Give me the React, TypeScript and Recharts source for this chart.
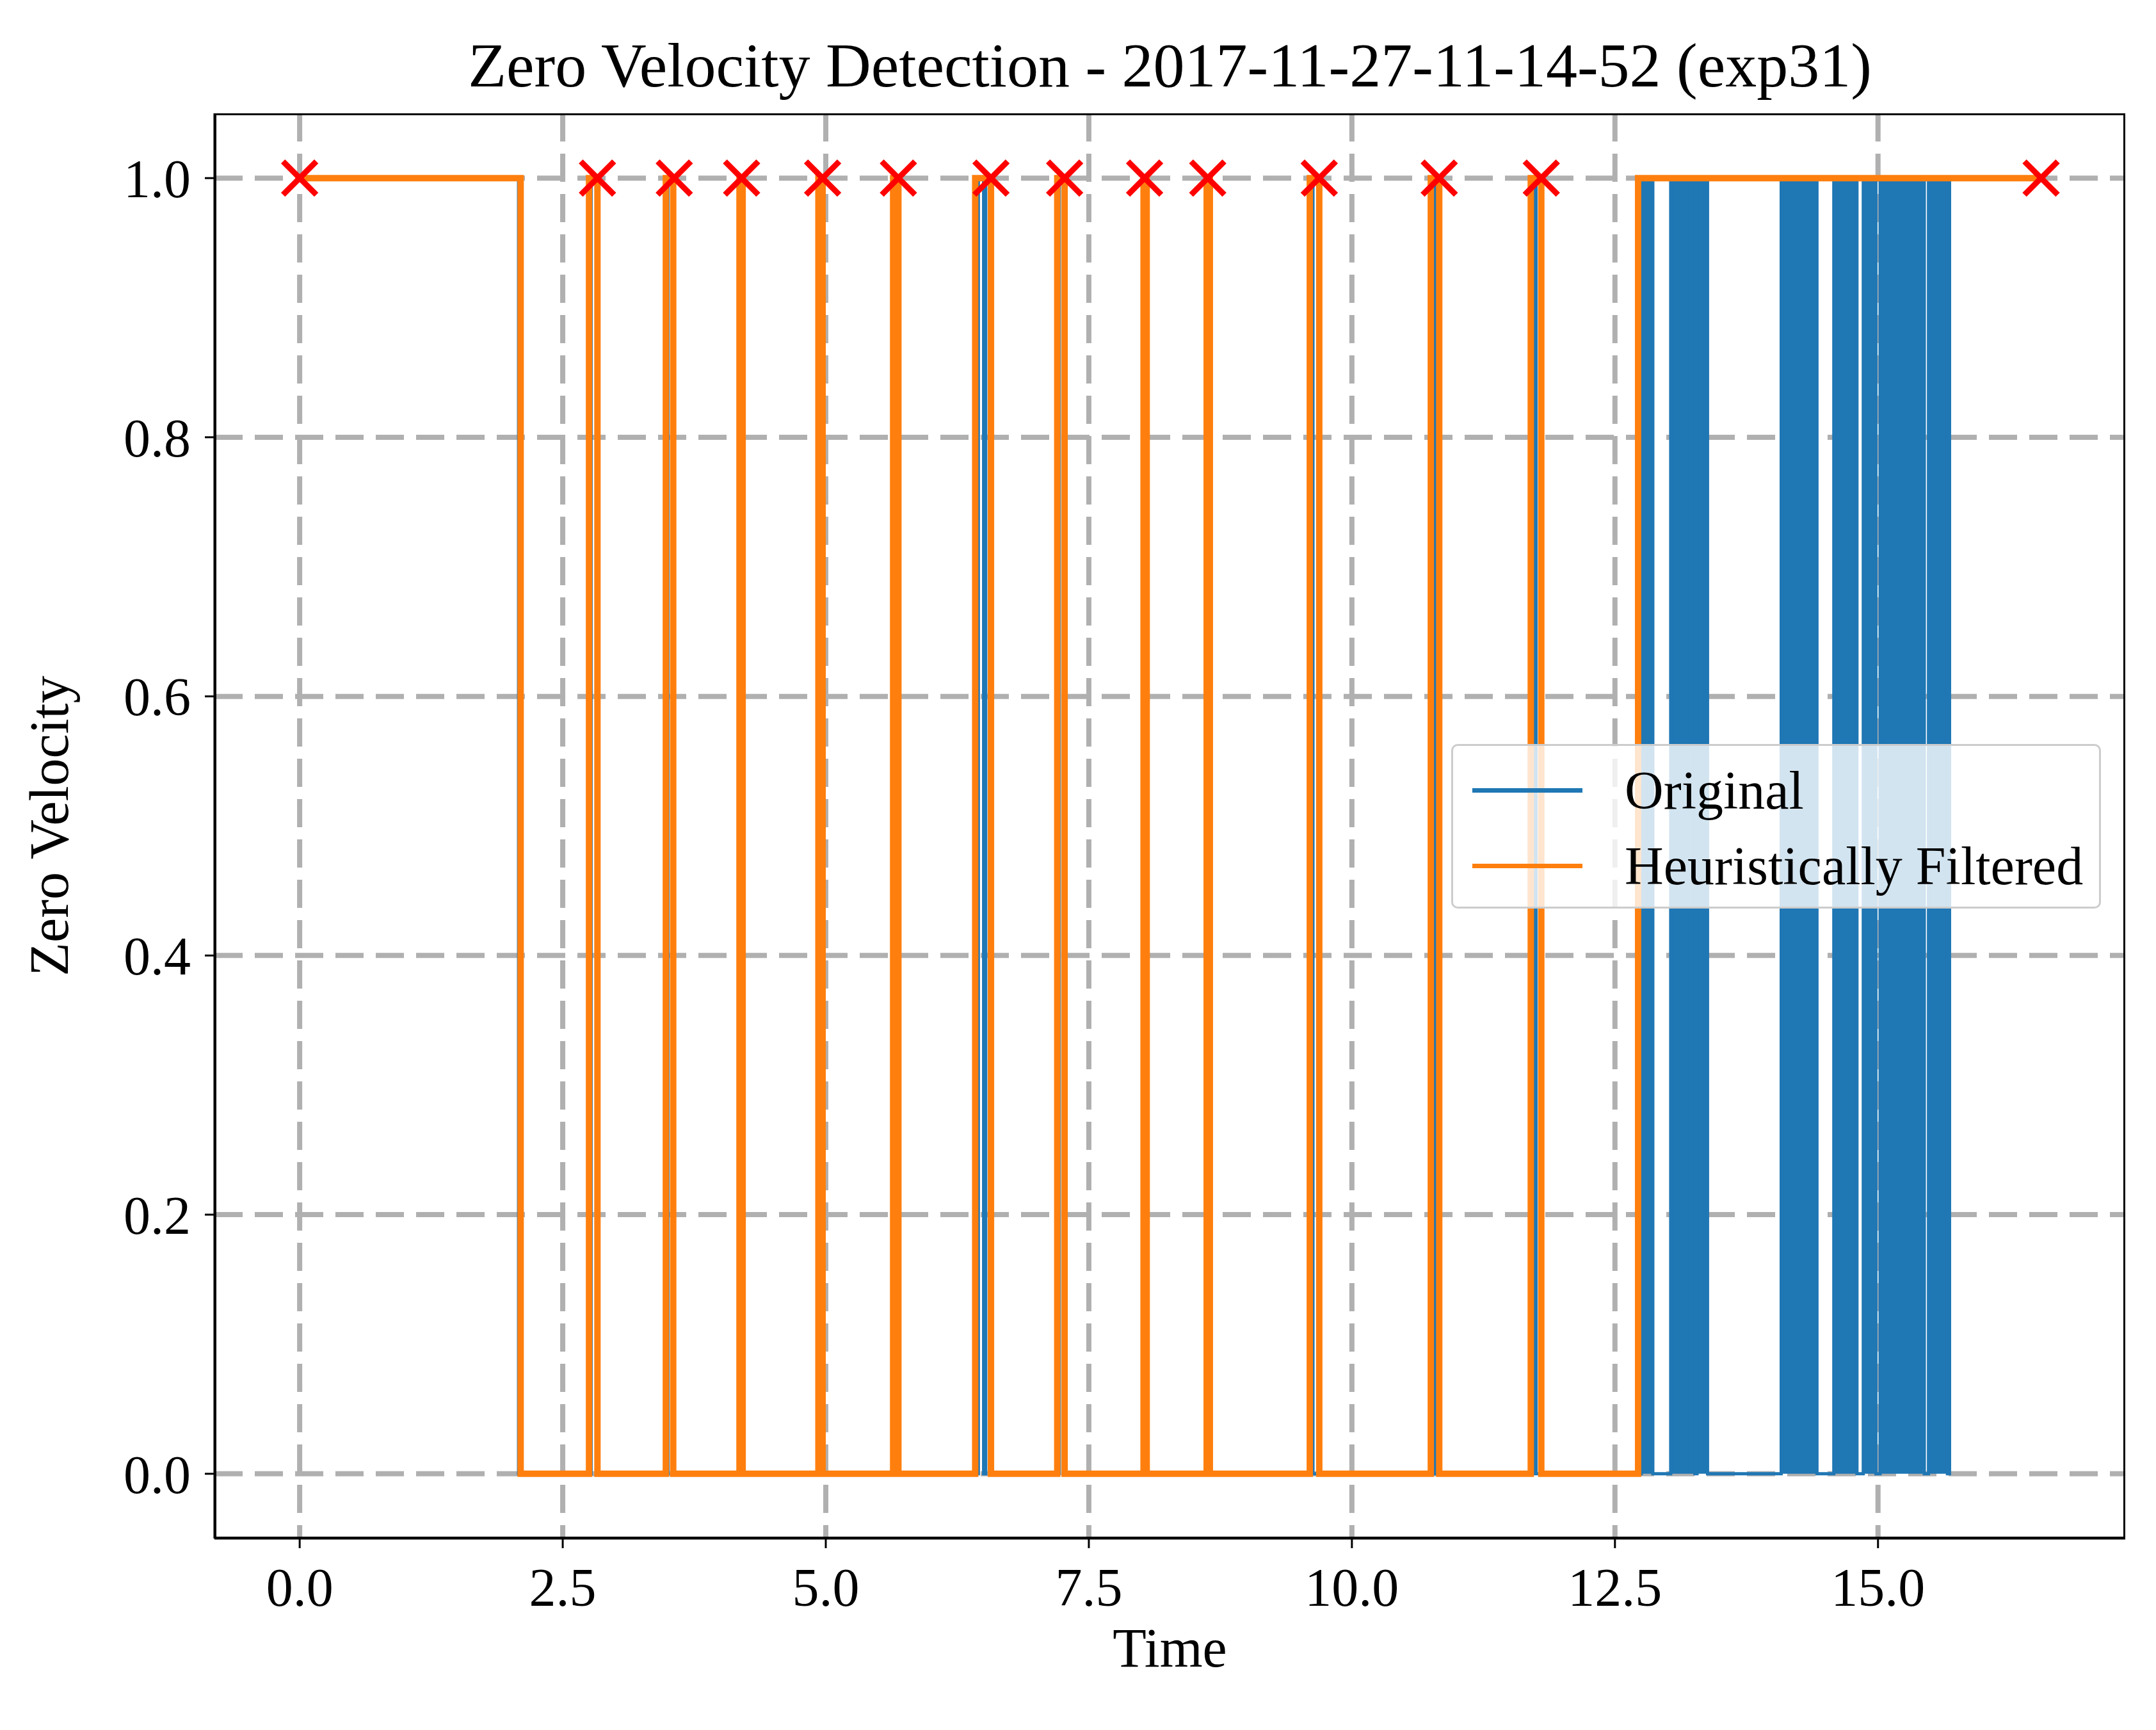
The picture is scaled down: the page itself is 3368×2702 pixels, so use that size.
import React from 'react';
import { ComposedChart, Line, Area, Scatter, XAxis, YAxis, CartesianGrid, Label } from 'recharts';

// step points [time, value]
const filteredSteps = [
  [0, 1], [2.1, 0], [2.75, 1], [2.83, 0], [3.48, 1], [3.55, 0], [4.18, 1], [4.21, 0],
  [4.93, 1], [4.97, 0], [5.64, 1], [5.69, 0], [6.42, 1], [6.57, 0], [7.2, 1], [7.27, 0],
  [8.02, 1], [8.05, 0], [8.62, 1], [8.65, 0], [9.6, 1], [9.69, 0], [10.75, 1], [10.83, 0],
  [11.7, 1], [11.8, 0], [12.72, 1], [16.55, 1],
];
const originalSteps = [
  [0, 1], [2.08, 0], [2.77, 1], [2.82, 0], [3.5, 1], [3.54, 0], [4.18, 1], [4.21, 0],
  [4.95, 1], [4.97, 0], [5.66, 1], [5.68, 0], [6.45, 1], [6.5, 0], [6.52, 1], [6.57, 0],
  [7.22, 1], [7.26, 0], [8.02, 1], [8.05, 0], [8.62, 1], [8.65, 0], [9.6, 1], [9.63, 0],
  [10.78, 1], [10.81, 0], [11.72, 1], [11.75, 0], [12.75, 1], [12.86, 0], [13.03, 1],
  [13.26, 0], [13.28, 1], [13.38, 0], [14.08, 1], [14.42, 0], [14.58, 1], [14.8, 0],
  [14.86, 1], [14.98, 0], [15.02, 1], [15.44, 0], [15.48, 1], [15.66, 0], [15.68, 1], [16.55, 1],
];
// dense toggling regions of the original signal (appear solid)
const denseBlocks = [
  [12.75, 12.86], [13.03, 13.26], [13.28, 13.38], [14.08, 14.42],
  [14.58, 14.8], [14.86, 14.98], [15.02, 15.44], [15.48, 15.66],
];
const markerTimes = [0, 2.83, 3.56, 4.2, 4.97, 5.69, 6.57, 7.27, 8.03, 8.63, 9.69, 10.83, 11.8, 16.55];
const xTicks = [0, 2.5, 5, 7.5, 10, 12.5, 15];
const yTicks = [0, 0.2, 0.4, 0.6, 0.8, 1];

const filtered = filteredSteps.map(([x, y]) => ({ x, y }));
const original = originalSteps.map(([x, y]) => ({ x, y }));
const dense = [{ x: 12.7, y: 0 }, ...denseBlocks.flatMap(([s, e]) => [{ x: s, y: 1 }, { x: e, y: 0 }])];
const markers = markerTimes.map((x) => ({ x, y: 1 }));

const FONT = '"Liberation Serif", "DejaVu Serif", serif';
const BLUE = '#1f77b4';
const ORANGE = '#ff7f0e';

const Cross = (props: any) => {
  const { cx, cy } = props;
  const r = 26;
  return (
    <g stroke="#ff0000" strokeWidth={9}>
      <line x1={cx - r} y1={cy - r} x2={cx + r} y2={cy + r} />
      <line x1={cx - r} y1={cy + r} x2={cx + r} y2={cy - r} />
    </g>
  );
};

export default function App() {
  return (
    <div style={{ position: 'absolute', left: 0, top: 0, width: 3368, height: 2702, background: '#fff', fontFamily: FONT }}>
      <div style={{ position: 'absolute', top: 42, left: 335, width: 2985, textAlign: 'center', fontSize: 98, lineHeight: '120px', color: '#000' }}>
        Zero Velocity Detection - 2017-11-27-11-14-52 (exp31)
      </div>
      <ComposedChart width={3368} height={2702} margin={{ top: 177, right: 48, bottom: 199, left: 135 }}>
        <CartesianGrid stroke="#b0b0b0" strokeWidth={8} strokeDasharray="44 19" horizontalValues={yTicks} verticalValues={xTicks} />
        <XAxis type="number" dataKey="x" domain={[-0.81, 17.35]} ticks={xTicks} allowDataOverflow height={100}
          tickFormatter={(v: number) => v.toFixed(1)} tick={{ fontSize: 84, fill: '#000', fontFamily: FONT }}
          tickSize={15} tickMargin={30} stroke="#000" strokeWidth={3}>
          <Label value="Time" position="insideBottom" offset={-100} style={{ fontSize: 86, fill: '#000', fontFamily: FONT }} />
        </XAxis>
        <YAxis type="number" domain={[-0.05, 1.05]} ticks={yTicks} width={200} allowDataOverflow
          tickFormatter={(v: number) => v.toFixed(1)} tick={{ fontSize: 84, fill: '#000', fontFamily: FONT }}
          tickSize={15} tickMargin={22} stroke="#000" strokeWidth={3}>
          <Label value="Zero Velocity" angle={-90} position="insideLeft" offset={-60} style={{ fontSize: 86, fill: '#000', fontFamily: FONT, textAnchor: 'middle' }} />
        </YAxis>
        <Area data={dense} dataKey="y" type="stepAfter" fill={BLUE} fillOpacity={1} stroke="none" baseValue={0} isAnimationActive={false} />
        <Line data={original} dataKey="y" type="stepAfter" stroke={BLUE} strokeWidth={5} dot={false} isAnimationActive={false} />
        <Line data={filtered} dataKey="y" type="stepAfter" stroke={ORANGE} strokeWidth={10} dot={false} isAnimationActive={false} />
        <Scatter data={markers} dataKey="y" shape={<Cross />} isAnimationActive={false} />
      </ComposedChart>
      <div style={{ position: 'absolute', left: 335, top: 177, width: 2985, height: 2226, boxSizing: 'border-box', border: '3px solid #000', pointerEvents: 'none' }} />
      <div style={{ position: 'absolute', left: 2267, top: 1162, width: 1015, height: 257, boxSizing: 'border-box', border: '3px solid #cccccc', borderRadius: 10, background: 'rgba(255,255,255,0.8)', fontSize: 84, color: '#000' }}>
        {[['Original', BLUE], ['Heuristically Filtered', ORANGE]].map(([name, c], i) => (
          <div key={name} style={{ position: 'absolute', left: 30, top: 69 + i * 118, height: 0, display: 'flex', alignItems: 'center', whiteSpace: 'nowrap' }}>
            <div style={{ width: 172, height: 7, background: c, marginRight: 66 }} />
            <span>{name}</span>
          </div>
        ))}
      </div>
    </div>
  );
}
